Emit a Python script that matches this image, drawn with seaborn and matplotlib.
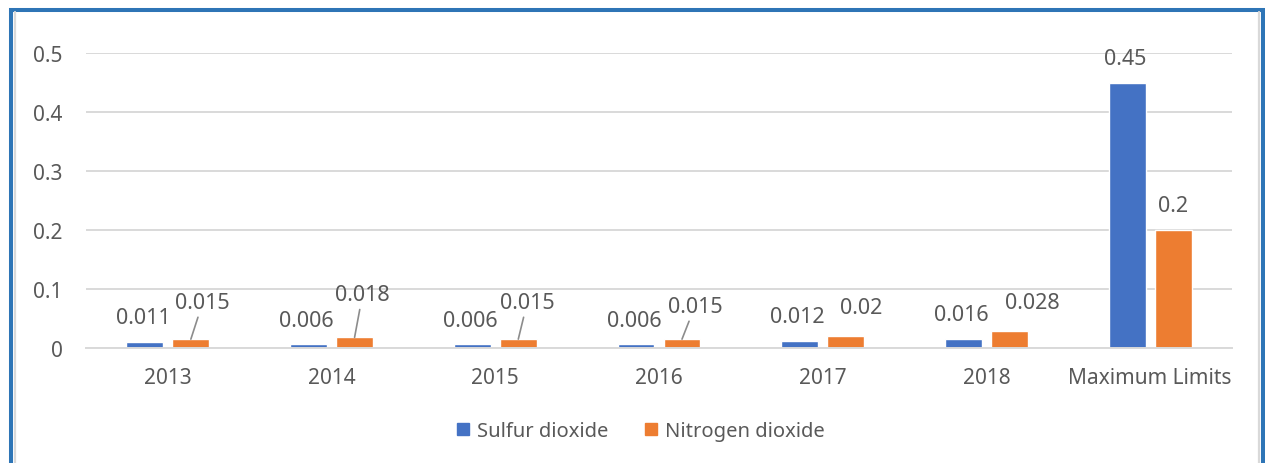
import matplotlib
matplotlib.use("Agg")
import matplotlib.pyplot as plt
from matplotlib.patches import Rectangle
from matplotlib.lines import Line2D
import seaborn as sns
import pandas as pd

# ---- data ----
categories = ["2013", "2014", "2015", "2016", "2017", "2018", "Maximum Limits"]
sulfur_dioxide = [0.011, 0.006, 0.006, 0.006, 0.012, 0.016, 0.45]
nitrogen_dioxide = [0.015, 0.018, 0.015, 0.015, 0.02, 0.028, 0.2]
series_names = ["Sulfur dioxide", "Nitrogen dioxide"]
y_ticks = [0, 0.1, 0.2, 0.3, 0.4, 0.5]

df = pd.DataFrame({
    "category": categories * 2,
    "value": sulfur_dioxide + nitrogen_dioxide,
    "series": [series_names[0]] * len(categories) + [series_names[1]] * len(categories),
})

# ---- style ----
BLUE = "#4472C4"
ORANGE = "#ED7D31"
TEXT = "#595959"
GRID = "#D9D9D9"
FRAME = "#2E75B6"

sns.set_style("white")
plt.rcParams["font.family"] = ["Noto Sans", "DejaVu Sans"]

W, H, DPI = 1265, 464, 100
fig = plt.figure(figsize=(W / DPI, H / DPI), dpi=DPI)
ax = fig.add_axes([86 / W, 1 - 349 / H, (1232 - 86) / W, (349 - 54) / H])

sns.barplot(data=df, x="category", y="value", hue="series",
            palette=[BLUE, ORANGE], width=0.562, gap=0.196,
            saturation=1, ax=ax, legend=False, errorbar=None)

ax.set_xlim(-0.5, len(categories) - 0.5)
ax.set_ylim(0, 0.5)
ax.set_yticks(y_ticks)
ax.set_yticklabels([f"{t:g}" for t in y_ticks])
ax.set_xlabel("")
ax.set_ylabel("")
ax.grid(axis="y", color=GRID, linewidth=1.4)
ax.set_axisbelow(True)
for s in ["top", "right", "left"]:
    ax.spines[s].set_visible(False)
ax.spines["bottom"].set_color(GRID)
ax.spines["bottom"].set_linewidth(1.4)
ax.tick_params(axis="both", length=0, labelsize=15, colors=TEXT)
ax.tick_params(axis="x", pad=14)
ax.tick_params(axis="y", pad=17)

# ---- data labels (offsets in pixels from the bar top centre) ----
blue_offsets = [(-2, 24)] * len(categories)
orange_offsets = [(12, 37), (8, 43), (9, 37), (13, 33), (15, 29), (23, 29), (0, 24)]
orange_leaders = [True, True, True, True, False, False, False]

for container, values, offsets, leaders in [
    (ax.containers[0], sulfur_dioxide, blue_offsets, [False] * len(categories)),
    (ax.containers[1], nitrogen_dioxide, orange_offsets, orange_leaders),
]:
    for bar, v, (dx, dy), lead in zip(container, values, offsets, leaders):
        xc = bar.get_x() + bar.get_width() / 2
        kw = {}
        if lead:
            kw["arrowprops"] = dict(arrowstyle="-", color="#8C8C8C", lw=1.2,
                                    shrinkA=1, shrinkB=0)
        ax.annotate(f"{v:g}", xy=(xc, v), xytext=(dx, dy),
                    textcoords="offset pixels", ha="center", va="center",
                    fontsize=15.5, color=TEXT, annotation_clip=False, **kw)

# ---- legend ----
handles = [Line2D([], [], marker="s", linestyle="", markersize=9,
                  markerfacecolor=c, markeredgecolor=c) for c in (BLUE, ORANGE)]
fig.legend(handles, series_names, loc="center",
           bbox_to_anchor=(640 / W, 1 - 432 / H), ncol=2, frameon=False,
           fontsize=14.5, labelcolor=TEXT, handletextpad=0.3, columnspacing=1.7,
           handlelength=0.8)

# ---- chart frame ----
fig.patches.append(Rectangle((11 / W, -0.2), (1263 - 11) / W, 1.2 - 10.5 / H,
                             transform=fig.transFigure, fill=False,
                             edgecolor=FRAME, linewidth=2.9))
fig.add_artist(Line2D([14.5 / W, 14.5 / W], [0, 1 - 13 / H],
                      transform=fig.transFigure, color=GRID, lw=1.6))
fig.add_artist(Line2D([1258.5 / W, 1258.5 / W], [0, 1 - 13 / H],
                      transform=fig.transFigure, color=GRID, lw=1.6))

fig.savefig("out.png", dpi=DPI)
